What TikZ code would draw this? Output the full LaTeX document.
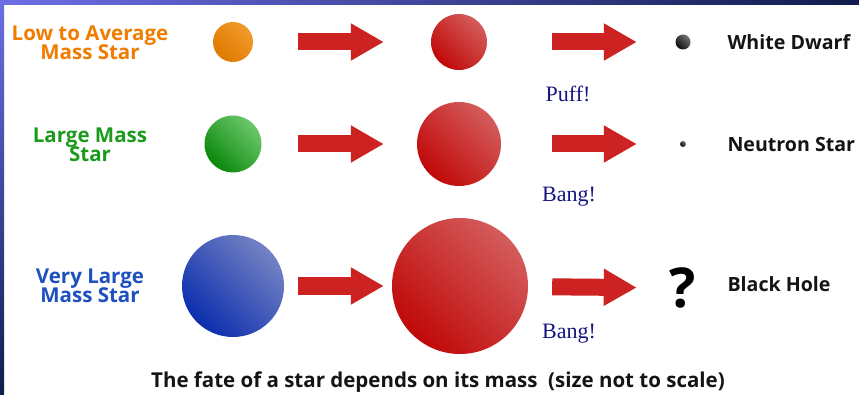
\documentclass[tikz,border=0pt]{standalone}
\usepackage{fontspec}
\usepackage{tikz}
\usetikzlibrary{arrows.meta,positioning}
\newfontfamily\labelfont{Open Sans}
\newfontfamily\shoutfont{Liberation Serif}
\newcommand\tightlines{\lineskiplimit=-20pt\relax}
\definecolor{frameblue}{HTML}{6E6EE6}
\definecolor{framesky}{HTML}{5EB6F0}
\definecolor{framenavy}{HTML}{101C4C}
\definecolor{arrowred}{HTML}{CC2222}
\definecolor{labelorange}{HTML}{F07C00}
\definecolor{labelgreen}{HTML}{1C9A1C}
\definecolor{labelblue}{HTML}{1E50C0}
\definecolor{shoutnavy}{HTML}{161680}
\definecolor{orangelight}{HTML}{F09A2A}
\definecolor{orangedark}{HTML}{E07A00}
\definecolor{greenlight}{HTML}{6CC86C}
\definecolor{greendark}{HTML}{0A870A}
\definecolor{bluelight}{HTML}{7482C4}
\definecolor{bluedark}{HTML}{0C2EAE}
\definecolor{redlight}{HTML}{D45C5C}
\definecolor{redmid}{HTML}{C82828}
\definecolor{reddark}{HTML}{C00808}
\tikzset{
  starball/.style={
    circle,
    inner sep=0pt
  },
  orangestar/.style={starball, top color=orangelight, bottom color=orangedark, shading angle=-45},
  greenstar/.style={starball, top color=greenlight, bottom color=greendark, shading angle=-45},
  bluestar/.style={starball, top color=bluelight, bottom color=bluedark, shading angle=-45},
  redstar/.style={starball, top color=redlight, middle color=redmid, bottom color=reddark, shading angle=-45},
  darkstar/.style={starball, top color=black!55, bottom color=black!95, shading angle=-45},
  masslabel/.style={
    align=center,
    font=\labelfont\bfseries\fontsize{20.5}{18.5}\selectfont\tightlines
  },
  fatelabel/.style={
    anchor=west,
    text=black!92,
    font=\labelfont\bfseries\fontsize{19.6}{20}\selectfont
  },
  shout/.style={
    text=shoutnavy,
    font=\shoutfont\fontsize{22}{22}\selectfont
  },
  bigarrow/.style={
    -{Triangle[length=33pt,width=35pt]},
    line width=17pt,
    draw=arrowred
  }
}

\begin{document}
\begin{tikzpicture}[x=1pt,y=-1pt]
\useasboundingbox (0,0) rectangle (859,395);
\fill[white] (0,0) rectangle (859,395);
% slide frame
\shade[left color=frameblue, middle color=framesky, right color=framenavy] (0,0) rectangle (859,5);
\shade[top color=frameblue, bottom color=framenavy] (0,0) rectangle (4,395);

% masses
\node[masslabel, text=labelorange] (lowlab) at (90,43) {Low to Average\\Mass Star};
\node[masslabel, text=labelgreen] (largelab) at (90,145) {Large Mass\\Star};
\node[masslabel, text=labelblue] (vlargelab) at (90,286) {Very Large\\Mass Star};

% stars
\node[orangestar, minimum size=40pt] (low) at (233,42) {};
\node[greenstar, minimum size=57pt] (large) at (233,144) {};
\node[bluestar, minimum size=102pt] (vlarge) at (233,286) {};

% giants
\node[redstar, minimum size=56pt] (lowgiant) at (459,42) {};
\node[redstar, minimum size=84pt] (largegiant) at (459,144) {};
\node[redstar, minimum size=136pt] (vlargegiant) at (460,286) {};

% remnants
\node[darkstar, minimum size=15pt] (dwarf) at (683,42) {};
\node[darkstar, minimum size=6pt] (neutron) at (683,144) {};
\node[inner sep=0pt, minimum width=26pt, font=\labelfont\bfseries\fontsize{55}{55}\selectfont] (hole) at (683,288) {?};

\node[fatelabel] (dwarflab) at (724,42) {White Dwarf};
\node[fatelabel] (neutronlab) at (724,145) {Neutron Star};
\node[fatelabel] (holelab) at (724,284) {Black Hole};

\node[shout] (puff) at (568,94) {Puff!};
\node[shout] (bang) at (569,197) {Bang!};
\node[shout] (bangbig) at (569,334) {Bang!};

\draw[bigarrow, shorten <=45pt, shorten >=47pt] (low) -- (lowgiant);
\draw[bigarrow, shorten <=36.5pt, shorten >=33pt] (large) -- (largegiant);
\draw[bigarrow, shorten <=14pt, shorten >=8pt] (vlarge) -- (vlargegiant);
\draw[bigarrow, shorten <=65pt, shorten >=38.5pt] (lowgiant) -- (dwarf);
\draw[bigarrow, shorten <=51pt, shorten >=43pt] (largegiant) -- (neutron);
\draw[bigarrow, shorten <=24pt, shorten >=33pt] (vlargegiant) -- (hole);

\node[font=\labelfont\bfseries\fontsize{20.5}{20}\selectfont, text=black!92] (caption) at (438,382) {The fate of a star depends on its mass\ \ (size not to scale)};
\end{tikzpicture}
\end{document}
